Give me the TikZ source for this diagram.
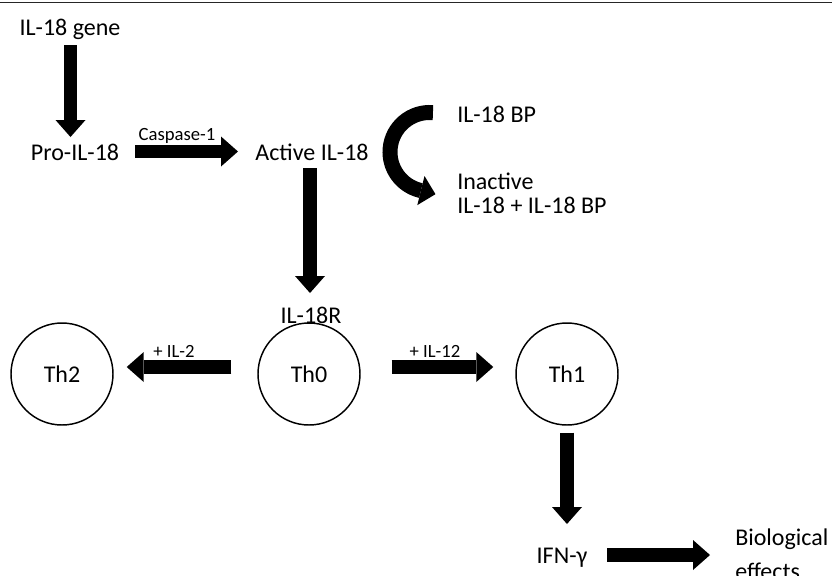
\documentclass[tikz,border=0pt]{standalone}
\usepackage{fontspec}
\setmainfont{Carlito}
\usetikzlibrary{arrows.meta, calc}

\begin{document}
\begin{tikzpicture}[x=0.75pt, y=-0.75pt,
    txt/.style={inner sep=0pt, font=\fontsize{18}{22}\selectfont},
    smalltxt/.style={inner sep=0pt, font=\fontsize{14}{17}\selectfont},
    cell/.style={circle, draw, line width=1.1pt, minimum size=76.5pt, inner sep=0pt, font=\fontsize{18}{22}\selectfont},
    fat/.style={line width=10pt, -{Triangle[length=12.75pt, width=22.5pt, line width=0pt]}},
    curl/.style={line width=11.25pt, -{Triangle[length=11.25pt, width=22.5pt, line width=0pt]}}]
    \useasboundingbox (0,0) rectangle (832,575);
    \draw[line width=1.1pt, black!85] (0,2.5) -- (832,2.5);

    \node[txt, anchor=base] (gene) at (70,35) {IL-18 gene};
    \node[txt, anchor=base] (pro) at (75,160) {Pro-IL-18};
    \node[txt, anchor=base] (active) at (312,160) {Active IL-18};
    \node[smalltxt, anchor=base] (casp) at (177,140) {Caspase-1};
    \node[txt, anchor=base west] (bp) at (457,122) {IL-18 BP};
    \node[txt, anchor=north west, align=left] (inact) at (457,173) {Inactive\\[-4.5pt]IL-18 + IL-18 BP};
    \node[txt, anchor=base] (r18) at (311,323) {IL-18R};

    \node[cell] (th2) at (62,374) {Th2};
    \node[cell] (th0) at (309,374) {Th0};
    \node[cell] (th1) at (567,374) {Th1};
    \node[smalltxt, anchor=base] (il2) at (174,357) {+ IL-2};
    \node[smalltxt, anchor=base] (il12) at (435,357) {+ IL-12};

    \node[txt, anchor=base] (ifn) at (562,563) {IFN-γ};
    \node[txt, anchor=north west, align=left] (bio) at (735,528.5) {Biological\\[3.5pt]effects};

    \coordinate (hub) at (429.5,152);

    \draw[fat] ($(gene.base)+(0.5,10)$) -- ($(pro.base)+(-4.5,-23)$);
    \draw[fat] ($(pro.base)+(60,-8.5)$) -- ($(active.base)+(-74,-8.5)$);
    \draw[fat] ($(active.base)+(-2,8)$) -- ($(r18.base)+(-1,-30)$);
    \draw[curl] ($(hub)+(-85:39.5)$) arc[start angle=-85, end angle=-256, radius=39.5] -- ++(14:16);
    \draw[fat] ($(th0.west)+(-26,-7)$) -- ($(th2.east)+(13,-7)$);
    \draw[fat] ($(th0.east)+(31,-7)$) -- ($(th1.west)+(-22,-7)$);
    \draw[fat] ($(th1.south)+(0,7)$) -- ($(ifn.base)+(5,-39)$);
    \draw[fat] ($(ifn.base)+(45,-8)$) -- ($(bio.north west)+(-25,26.5)$);
\end{tikzpicture}
\end{document}
